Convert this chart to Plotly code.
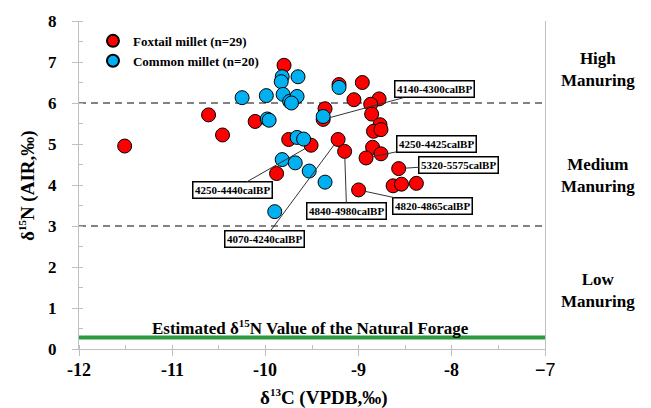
import plotly.graph_objects as go

# Foxtail millet (red)
fox_x = [-11.51, -10.61, -10.46, -10.11, -9.80, -9.75, -9.51, -9.88, -9.36, -9.38,
         -9.21, -8.96, -9.05, -8.78, -8.87, -8.86, -8.77, -8.84, -8.76, -9.22,
         -9.15, -8.85, -8.92, -8.76, -8.57, -8.63, -8.54, -8.38, -9.00]
fox_y = [4.95, 5.71, 5.22, 5.55, 6.92, 5.11, 4.97, 4.28, 5.86, 5.60,
         6.45, 6.50, 6.08, 6.10, 5.97, 5.73, 5.47, 5.31, 5.35, 5.11,
         4.82, 4.92, 4.66, 4.76, 4.40, 3.98, 4.02, 4.04, 3.88]
# Common millet (blue)
com_x = [-9.90, -10.25, -9.99, -9.82, -9.83, -9.65, -9.81, -9.74, -9.66, -9.72,
         -9.98, -9.96, -9.66, -9.59, -9.82, -9.68, -9.53, -9.36, -9.38, -9.21]
com_y = [3.35, 6.13, 6.18, 6.64, 6.52, 6.64, 6.21, 6.04, 6.16, 6.00,
         5.61, 5.58, 5.16, 5.12, 4.62, 4.54, 4.34, 4.07, 5.67, 6.38]

# Date labels: text, target point, offset of the label box (pixels)
lab_text = ["4140-4300calBP", "4250-4425calBP", "5320-5575calBP", "4820-4865calBP",
            "4840-4980calBP", "4250-4440calBP", "4070-4240calBP"]
lab_x = [-9.38, -8.92, -8.57, -9.00, -9.15, -9.51, -9.22]
lab_y = [5.60, 4.66, 4.40, 3.88, 4.82, 4.97, 5.11]
lab_ax = [111, 70, 60, 74, 2, -79, -74]
lab_ay = [-30, -14, -4, 16, 60, 45, 100]

zone_text = ["High<br>Manuring", "Medium<br>Manuring", "Low<br>Manuring"]
zone_y = [6.81, 4.24, 1.43]

thresholds = [6, 3]
forage_value = 0.28

x_ticks = [-12, -11, -10, -9, -8, -7]
x_ticktext = ["-12", "-11", "-10", "-9", "-8", "−7"]
y_ticks = [0, 1, 2, 3, 4, 5, 6, 7, 8]
y_ticktext = ["<b>%d</b>" % v for v in y_ticks]

SERIF = "Liberation Serif"
SUP = "<sup><span style='font-size:11px'>%s</span></sup>"
fig = go.Figure()

fig.add_trace(go.Scatter(
    x=fox_x, y=fox_y, mode="markers", name="<b>Foxtail millet (n=29)</b>",
    marker=dict(size=14, color="#ff0000", line=dict(color="black", width=1))))
fig.add_trace(go.Scatter(
    x=com_x, y=com_y, mode="markers", name="<b>Common millet (n=20)</b>",
    marker=dict(size=14, color="#00b0f0", line=dict(color="black", width=1))))

for t in thresholds:
    fig.add_shape(type="line", xref="x", yref="y", x0=-12, x1=-7, y0=t, y1=t,
                  line=dict(color="#595959", width=1.3, dash="7px,5px"), layer="below")
fig.add_shape(type="line", xref="x", yref="y", x0=-12, x1=-7, y0=forage_value, y1=forage_value,
              line=dict(color="#2f9a3c", width=4), layer="below")

for t, x, y, ax, ay in zip(lab_text, lab_x, lab_y, lab_ax, lab_ay):
    fig.add_annotation(x=x, y=y, ax=ax, ay=ay, text="<b>%s</b>" % t, showarrow=True,
                       arrowhead=0, arrowwidth=1, arrowcolor="#333333", standoff=7,
                       bordercolor="black", borderwidth=1.5, borderpad=1.5, bgcolor="white",
                       font=dict(family=SERIF, size=11, color="black"))

for t, y in zip(zone_text, zone_y):
    fig.add_annotation(xref="paper", yref="y", x=1.1137, y=y, text="<b>%s</b>" % t,
                       showarrow=False, xanchor="center", yanchor="middle", align="center",
                       font=dict(family=SERIF, size=17, color="black"))

fig.add_annotation(xref="x", yref="y", x=-9.52, y=0.52,
                   text="<b>Estimated δ" + SUP % "15" + "N Value of the Natural Forage</b>",
                   showarrow=False, xanchor="center", yanchor="middle",
                   font=dict(family=SERIF, size=17, color="black"))

# x tick labels placed on the x scale
for v, t in zip(x_ticks, x_ticktext):
    last = (v == x_ticks[-1])
    fig.add_annotation(xref="x", yref="paper", x=v, y=-0.064, text=t, showarrow=False,
                       xanchor="center", yanchor="middle",
                       font=dict(family="Liberation Sans" if last else SERIF, size=18,
                                 color="black", weight="normal" if last else "bold"))

# axis titles
fig.add_annotation(xref="paper", yref="paper", x=0.525, y=-0.148,
                   text="<b>δ" + SUP % "13" + "C (VPDB,‰)</b>", showarrow=False,
                   xanchor="center", yanchor="middle",
                   font=dict(family=SERIF, size=19, color="black"))
fig.add_annotation(xref="paper", yref="paper", x=-0.1116, y=0.5,
                   text="<b>δ" + SUP % "15" + "N (AIR,‰)</b>", showarrow=False, textangle=-90,
                   xanchor="center", yanchor="middle",
                   font=dict(family=SERIF, size=19, color="black"))

fig.update_xaxes(range=[-12, -7], tickmode="array", tickvals=x_ticks, showticklabels=False,
                 showgrid=False, zeroline=False, showline=True, linecolor="#bfbfbf",
                 linewidth=1, ticks="outside", ticklen=6, tickcolor="#bfbfbf",
                 minor=dict(ticks="inside", ticklen=4, tickcolor="#bfbfbf", dtick=0.5))
fig.update_yaxes(range=[0, 8], tickmode="array", tickvals=y_ticks, ticktext=y_ticktext,
                 mirror=True, ticklabelstandoff=12,
                 showgrid=False, zeroline=False, showline=True, linecolor="#bfbfbf",
                 linewidth=1, ticks="outside", ticklen=6, tickcolor="#bfbfbf",
                 tickfont=dict(family=SERIF, size=17, color="black"),
                 minor=dict(ticks="inside", ticklen=4, tickcolor="#bfbfbf", dtick=0.5))

fig.update_layout(
    width=651, height=408, margin=dict(l=79, r=106, t=19, b=59),
    plot_bgcolor="white", paper_bgcolor="white",
    font=dict(family=SERIF, color="black"),
    legend=dict(x=0.03, y=0.985, xanchor="left", yanchor="top", bgcolor="rgba(0,0,0,0)",
                itemsizing="constant", tracegroupgap=0, itemwidth=30,
                font=dict(family=SERIF, size=13, color="black")),
)

fig.write_html("out.html")
